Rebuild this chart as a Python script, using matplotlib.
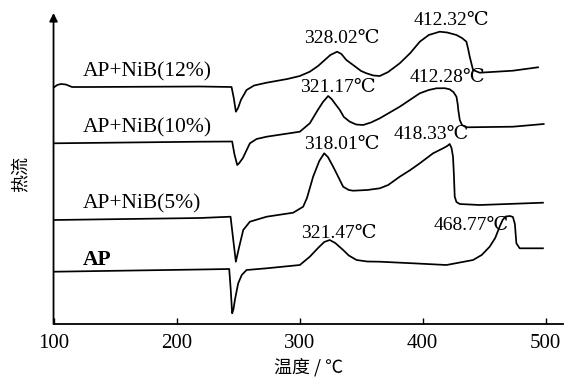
import matplotlib
matplotlib.use("Agg")
import matplotlib.pyplot as plt

# DSC curves, heat flow in arbitrary units (offset per sample)
t_12 = [100.4, 103, 106, 110, 115, 130, 219, 244.7, 246.5, 248.2, 250, 252.3, 256.9, 263,
        273.2, 290, 300.2, 308.3, 315, 325, 330.5, 334, 338, 343.5, 350, 354.4, 360, 365.2,
        372, 381.4, 390, 397.7, 405, 413.9, 420, 427.5, 432, 435.6, 437, 438.3, 441,
        446.4, 473.4, 493.8]
hf_12 = [236.7, 239, 240, 239.5, 237, 237, 237.5, 237, 226, 212.3, 216, 224, 234, 238.5,
         241.3, 245, 248, 252.3, 258, 269, 272.3, 270, 264, 259, 253, 250.7, 248.5, 248,
         252, 260.7, 271, 282.3, 289, 292.3, 291.5, 289, 286, 282.3, 275, 267.3, 254,
         251.3, 253.3, 256.7]

t_10 = [100.4, 219, 245.2, 247, 249.3, 251, 253.9, 259.6, 265, 273.2, 300.2, 308.3, 314.8,
        319, 323.2, 326, 332.7, 336, 340.8, 346, 351.6, 358, 365.2, 381.4, 397.7, 405,
        411.2, 418, 422, 425, 427.5, 428.5, 429, 430.2, 432, 435.6, 473.4, 498.4]
hf_10 = [180.7, 182.3, 182.5, 170, 159, 161, 166, 180.7, 185, 187.3, 192.3, 200.7, 214,
         222, 228, 225, 214, 207, 202.3, 199.5, 199, 201.5, 205.7, 217.3, 230.7, 234,
         235.7, 235.8, 234.7, 232, 227.3, 220, 214, 204, 199, 196.7, 197.3, 200]

t_5 = [100.4, 219, 243.9, 246, 248.2, 250.5, 254.2, 259.6, 273.2, 294.8, 302.9, 306, 311,
       316, 320, 323, 327, 330, 335.4, 340, 343.5, 355, 365.2, 372, 381.4, 390, 397.7,
       408.5, 416.6, 420, 422, 423.5, 424.7, 425.4, 426.1, 427.5, 430.2, 446.4, 497.8]
hf_5 = [104, 106, 107.3, 85, 62.3, 75, 94, 102.3, 107.3, 111.3, 117.3, 126, 147.3,
        163, 170.7, 167, 158, 150.7, 137.3, 134, 133.3, 134, 135.7, 139, 147.3, 154, 160.7,
        170.7, 175.7, 178, 180, 176, 167.3, 150, 127.3, 122, 120, 119, 121.3]

t_ap = [100.4, 219, 242.8, 244, 245.2, 246.3, 247.4, 250.1, 253, 256.9, 273.2, 300.2,
        308.3, 315, 320, 324.5, 329, 335.4, 340, 346.3, 355, 365.2, 392.2, 419.4, 441,
        448, 454.5, 459, 462.6, 465, 467.5, 471, 473.4, 475, 476.2, 478.9, 497.8]
hf_ap = [52.3, 54.5, 55, 35, 10.7, 15, 24, 40.7, 49, 54, 55.7, 59,
         67.3, 76, 82, 84, 81, 74, 68.5, 64, 62.5, 62.3, 60.7, 59, 64,
         69, 77.3, 86, 97.3, 104, 107.5, 108, 107, 100, 80.7, 75.7, 75.7]

sample_names = ["AP+NiB(12%)", "AP+NiB(10%)", "AP+NiB(5%)", "AP"]
peak_labels = ["328.02℃", "412.32℃", "321.17℃", "412.28℃",
               "318.01℃", "418.33℃", "321.47℃", "468.77℃"]

SERIF = ["Liberation Serif", "DejaVu Serif", "Noto Sans CJK SC"]
CJK = ["Noto Sans CJK SC", "DejaVu Sans"]

fig = plt.figure(figsize=(5.64, 3.79), dpi=100)
ax = fig.add_axes([0.0949, 0.1451, 0.9031, 0.8206])

for t, hf in [(t_12, hf_12), (t_10, hf_10), (t_5, hf_5), (t_ap, hf_ap)]:
    ax.plot(t, hf, color="black", linewidth=1.25, solid_joinstyle="round")

ax.set_xlim(100, 514)
ax.set_ylim(0, 311)

# sample names
name_pos = [(124, 252), (124, 196), (124, 120), (124, 64)]
for name, (x, y) in zip(sample_names, name_pos):
    ax.text(x, y, name, ha="left", va="center", fontsize=15.5, family=SERIF,
            fontweight="bold" if name == "AP" else "normal")

# peak temperatures
peak_pos = [(334.3, 286), (423.7, 303), (331.1, 236.5), (420.4, 246.5),
            (334.3, 180), (407.3, 190), (331.9, 91), (439.9, 99)]
for lab, (x, y) in zip(peak_labels, peak_pos):
    ax.text(x, y, lab, ha="center", va="center", fontsize=14, family=SERIF)

ax.spines["top"].set_visible(False)
ax.spines["right"].set_visible(False)
ax.spines["left"].set_visible(False)
ax.spines["bottom"].set_linewidth(1.3)
ax.annotate("", xy=(0, 1), xytext=(0, 0), xycoords="axes fraction",
            arrowprops=dict(arrowstyle="-|>", color="black", lw=1.3,
                            mutation_scale=12, shrinkA=0, shrinkB=0))

ax.set_yticks([])
ax.set_xticks([100, 200, 300, 400, 500])
ax.tick_params(axis="x", direction="in", length=4, width=1, pad=7)
for lbl in ax.get_xticklabels():
    lbl.set_family(SERIF)
    lbl.set_fontsize(15)

ax.set_xlabel("温度 / ℃", family=CJK, fontsize=13, labelpad=4)
fig.text(21 / 564, 1 - 174 / 379, "热流", rotation=90, ha="center", va="center",
         family=CJK, fontsize=13)

fig.savefig("out.png", dpi=100)
